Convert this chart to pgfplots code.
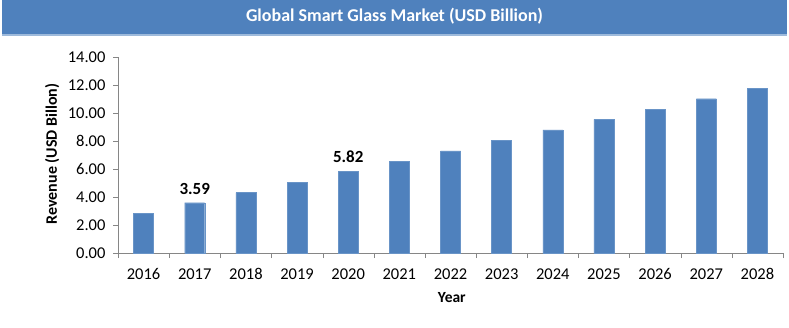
\documentclass[border=0pt]{standalone}
\usepackage{fontspec}
\setmainfont{Carlito}
\usepackage{pgfplots}
\pgfplotsset{compat=1.18}
\definecolor{barblue}{HTML}{4F81BD}
\definecolor{axisgrey}{HTML}{868686}
\begin{document}
\begin{tikzpicture}[x=1pt,y=1pt]
\useasboundingbox (0,0) rectangle (789,327);
\fill[barblue] (2,291) rectangle (787,327);
\fill[barblue!55!white] (2,291) rectangle (787,293);
\node[text=white, font=\bfseries\fontsize{18}{21}\selectfont] at (394.5,311) {Global Smart Glass Market (USD Billion)};
\begin{axis}[
  at={(118pt,74pt)}, anchor=south west, scale only axis,
  width=665pt, height=196pt,
  ymin=0, ymax=14, ytick={0,2,...,14},
  xmin=-0.5, xmax=12.5,
  xtick={0,...,12},
  xticklabels={2016,2017,2018,2019,2020,2021,2022,2023,2024,2025,2026,2027,2028},
  minor xtick={-0.5,0.5,...,12.5},
  axis lines*=left,
  axis line style={axisgrey},
  tick align=outside,
  major x tick style={draw=none},
  minor x tick style={axisgrey},
  major y tick style={axisgrey},
  major tick length=5pt, minor tick length=5pt,
  /pgf/number format/assume math mode=true,
  yticklabel style={/pgf/number format/fixed, /pgf/number format/fixed zerofill, /pgf/number format/precision=2, xshift=-4pt},
  ticklabel style={font=\fontsize{16.5}{19}\selectfont, text=black},
  xticklabel style={yshift=-7pt},
  ylabel={Revenue (USD Billon)},
  xlabel={Year},
  every axis y label/.style={at={(axis description cs:-0.099,0.505)}, rotate=90, anchor=center, font=\bfseries\fontsize{16}{19}\selectfont},
  every axis x label/.style={at={(axis description cs:0.502,-0.226)}, anchor=center, font=\bfseries\fontsize{15.5}{18}\selectfont},
  clip=false,
]
\addplot[ybar, bar width=20pt, bar shift=0pt, fill=barblue, draw=barblue!85!white] coordinates {
  (0,2.84) (1,3.59) (2,4.31) (3,5.05) (4,5.82) (5,6.53) (6,7.29)
  (7,8.06) (8,8.79) (9,9.55) (10,10.26) (11,11.02) (12,11.76)
};
\addplot[ybar, bar width=20pt, bar shift=0pt, draw=none, fill=none,
  nodes near coords, point meta=y,
  every node near coord/.append style={font=\bfseries\fontsize{17}{20}\selectfont, text=black, yshift=5pt, /pgf/number format/fixed, /pgf/number format/fixed zerofill, /pgf/number format/precision=2, /pgf/number format/assume math mode=true}]
  coordinates {(1,3.59) (4,5.82)};
\end{axis}
\end{tikzpicture}
\end{document}
